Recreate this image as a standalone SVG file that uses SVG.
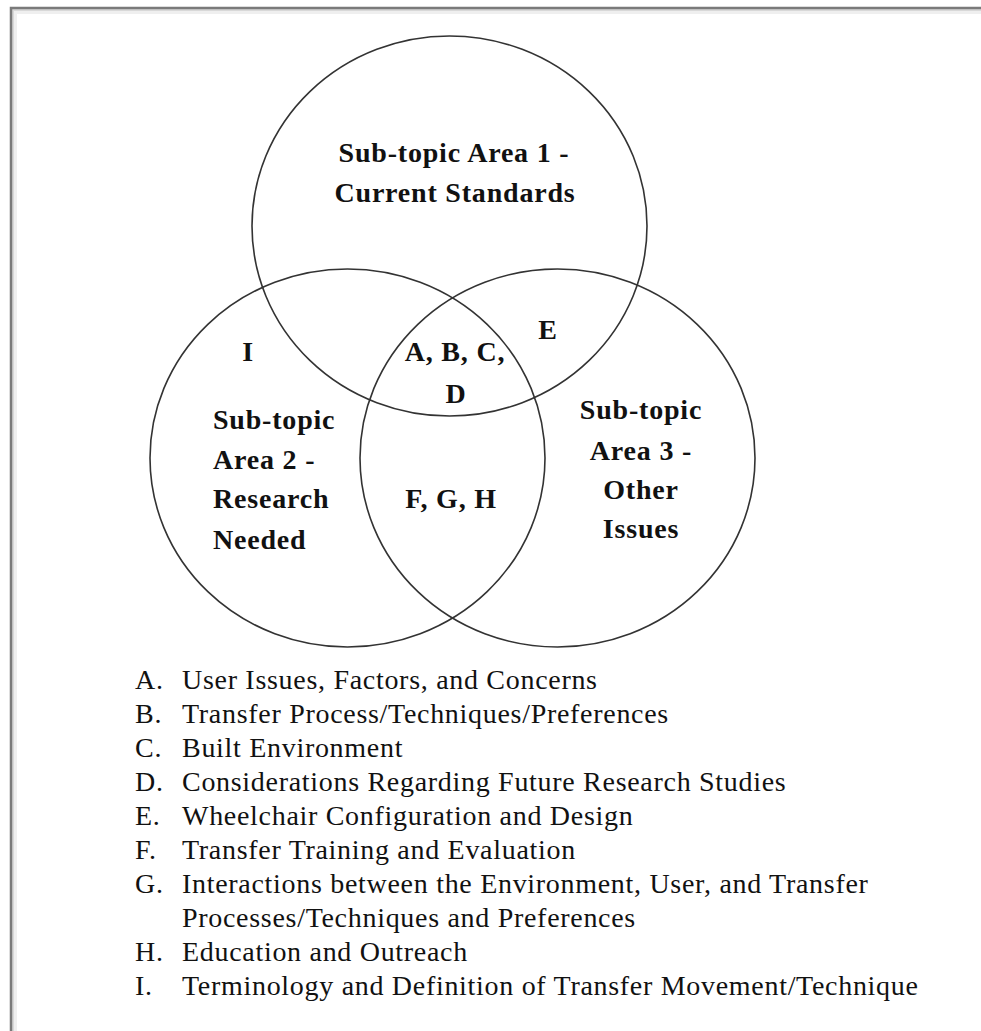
<svg xmlns="http://www.w3.org/2000/svg" width="981" height="1031" viewBox="0 0 981 1031">
  <style>
    .frame { fill: none; stroke: #7a7a7a; stroke-width: 2.5; }
    .shadow1 { fill: none; stroke: #d8d8d8; stroke-width: 2; }
    .shadow2 { fill: none; stroke: #efefef; stroke-width: 4; }
    .set { fill: none; stroke: #333333; stroke-width: 1.6; }
    .lbl { font-family: "Liberation Serif", "Times New Roman", serif; font-size: 28px; font-weight: bold; fill: #111111; letter-spacing: 0.8px; }
    .item { font-family: "Liberation Serif", "Times New Roman", serif; font-size: 28px; fill: #111111; letter-spacing: 0.7px; }
  </style>
  <rect x="0" y="0" width="981" height="1031" fill="#ffffff"/>
  <g id="frame">
    <path class="shadow2" d="M15,1031 V12 H981"/>
    <path class="shadow1" d="M13,1031 V10 H981"/>
    <path class="frame" d="M11,1031 V8 H981"/>
  </g>
  <g id="set-1">
    <ellipse class="set" cx="449.5" cy="226" rx="197.5" ry="190"/>
    <text class="lbl" x="454" y="162" text-anchor="middle">Sub-topic Area 1 -</text>
    <text class="lbl" x="455" y="202" text-anchor="middle">Current Standards</text>
  </g>
  <g id="set-2">
    <ellipse class="set" cx="347.5" cy="458" rx="197.5" ry="189"/>
    <text class="lbl" x="213" y="429">Sub-topic</text>
    <text class="lbl" x="213" y="469">Area 2 -</text>
    <text class="lbl" x="213" y="508">Research</text>
    <text class="lbl" x="213" y="549">Needed</text>
  </g>
  <g id="set-3">
    <ellipse class="set" cx="557.5" cy="458" rx="197.5" ry="189"/>
    <text class="lbl" x="641" y="419" text-anchor="middle">Sub-topic</text>
    <text class="lbl" x="641" y="460" text-anchor="middle">Area 3 -</text>
    <text class="lbl" x="641" y="499" text-anchor="middle">Other</text>
    <text class="lbl" x="641" y="538" text-anchor="middle">Issues</text>
  </g>
  <g id="region-labels">
    <text class="lbl" x="248" y="361" text-anchor="middle">I</text>
    <text class="lbl" x="455" y="361" text-anchor="middle">A, B, C,</text>
    <text class="lbl" x="456" y="403" text-anchor="middle">D</text>
    <text class="lbl" x="548" y="339" text-anchor="middle">E</text>
    <text class="lbl" x="451" y="508" text-anchor="middle">F, G, H</text>
  </g>
  <g id="legend">
    <text class="item" x="135" y="689">A.</text><text class="item" x="182" y="689">User Issues, Factors, and Concerns</text>
    <text class="item" x="135" y="723">B.</text><text class="item" x="182" y="723">Transfer Process/Techniques/Preferences</text>
    <text class="item" x="135" y="757">C.</text><text class="item" x="182" y="757">Built Environment</text>
    <text class="item" x="135" y="791">D.</text><text class="item" x="182" y="791">Considerations Regarding Future Research Studies</text>
    <text class="item" x="135" y="825">E.</text><text class="item" x="182" y="825">Wheelchair Configuration and Design</text>
    <text class="item" x="135" y="859">F.</text><text class="item" x="182" y="859">Transfer Training and Evaluation</text>
    <text class="item" x="135" y="893">G.</text><text class="item" x="182" y="893">Interactions between the Environment, User, and Transfer</text>
    <text class="item" x="182" y="927">Processes/Techniques and Preferences</text>
    <text class="item" x="135" y="961">H.</text><text class="item" x="182" y="961">Education and Outreach</text>
    <text class="item" x="135" y="995">I.</text><text class="item" x="182" y="995">Terminology and Definition of Transfer Movement/Technique</text>
  </g>
</svg>
